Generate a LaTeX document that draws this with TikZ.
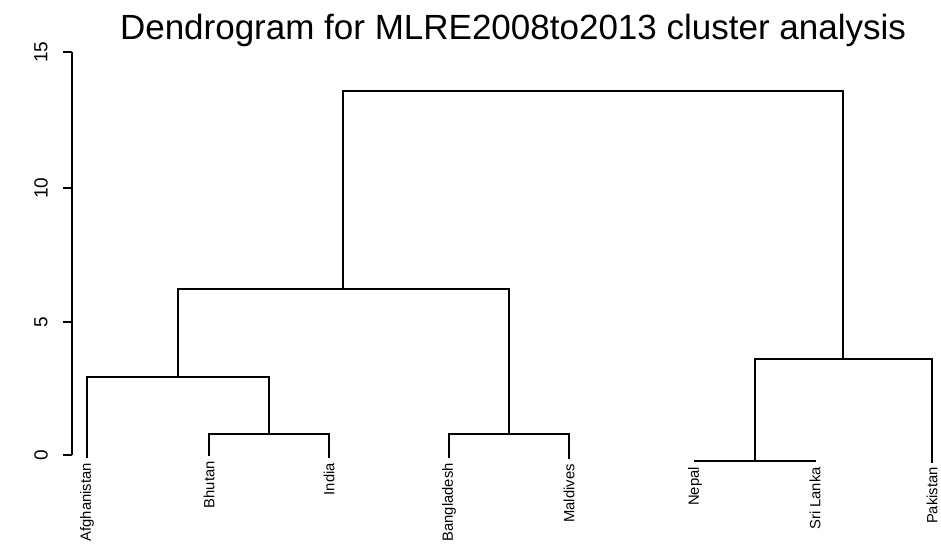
\documentclass[tikz,border=0pt]{standalone}
\usepackage{fontspec}
\setmainfont{Liberation Sans}
\begin{document}
\begin{tikzpicture}[x=1pt,y=-1pt,
  tree/.style={line width=2.6pt,black,line cap=rect},
  axisline/.style={line width=1.8pt,black},
  leaflab/.style={rotate=90,anchor=east,inner sep=0pt,font=\fontsize{14.8}{16}\selectfont},
  ticklab/.style={rotate=90,inner sep=0pt,font=\fontsize{19}{21}\selectfont},
  titlelab/.style={inner sep=0pt,font=\fontsize{35}{38}\selectfont}]
\useasboundingbox[fill=white] (0,0) rectangle (941,543);
% title
\node[titlelab] (title) at (513,30) {Dendrogram for MLRE2008to2013 cluster analysis};
% axis
\coordinate (y0) at (72,455);
\coordinate (y5) at (72,322);
\coordinate (y10) at (72,188);
\coordinate (y15) at (72,52);
\coordinate (t0) at (63,455);
\coordinate (t5) at (63,322);
\coordinate (t10) at (63,188);
\coordinate (t15) at (63,52);
\draw[axisline] (y0) -- (y15);
\draw[axisline] (y0) -- (t0);
\draw[axisline] (y5) -- (t5);
\draw[axisline] (y10) -- (t10);
\draw[axisline] (y15) -- (t15);
\node[ticklab] (l0) at (41,455) {0};
\node[ticklab] (l5) at (41,322) {5};
\node[ticklab] (l10) at (41,188) {10};
\node[ticklab] (l15) at (41,52) {15};
% leaves
\coordinate (afg) at (87,457);
\coordinate (bhu) at (209,455);
\coordinate (ind) at (329,457);
\coordinate (ban) at (449,457);
\coordinate (mal) at (569,458);
\coordinate (nep) at (695,461);
\coordinate (sri) at (815,461);
\coordinate (pak) at (932,462);
% merges
\coordinate (bi) at (269,434);
\coordinate (bm) at (509,434);
\coordinate (ns) at (755,461);
\coordinate (abi) at (178,377);
\coordinate (nsp) at (843,359);
\coordinate (left) at (343,289);
\coordinate (top) at (593,91);
% tree
\draw[tree] (bhu) |- (bi) -| (ind);
\draw[tree] (ban) |- (bm) -| (mal);
\draw[tree] (nep) -- (ns) -- (sri);
\draw[tree] (afg) |- (abi) -| (bi);
\draw[tree] (ns) |- (nsp) -| (pak);
\draw[tree] (abi) |- (left) -| (bm);
\draw[tree] (left) |- (top) -| (nsp);
% labels
\node[leaflab] (lafg) at ([yshift=-6pt]afg) {Afghanistan};
\node[leaflab] (lbhu) at ([yshift=-6pt]bhu) {Bhutan};
\node[leaflab] (lind) at ([yshift=-6pt]ind) {India};
\node[leaflab] (lban) at ([yshift=-6pt]ban) {Bangladesh};
\node[leaflab] (lmal) at ([yshift=-6pt]mal) {Maldives};
\node[leaflab] (lnep) at ([yshift=-6pt]nep) {Nepal};
\node[leaflab] (lsri) at ([yshift=-6pt]sri) {Sri Lanka};
\node[leaflab] (lpak) at ([yshift=-5pt]pak) {Pakistan};
\end{tikzpicture}
\end{document}
